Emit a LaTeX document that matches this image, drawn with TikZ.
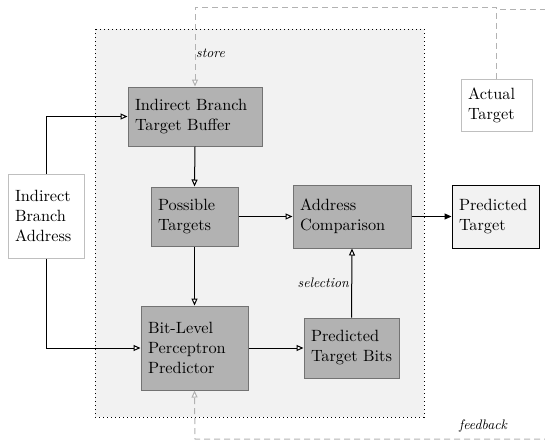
\documentclass[tikz,border=0pt]{standalone}
\usepackage{fontspec}
\setmainfont{lmroman10-regular.otf}[ItalicFont=lmroman10-italic.otf,
  BoldFont=lmroman10-bold.otf]
\usetikzlibrary{arrows.meta}
\begin{document}
\begin{tikzpicture}[x=1pt,y=-1pt,
  txt/.style={font=\fontsize{16.3}{20}\selectfont, align=left, anchor=center,
    inner xsep=7pt, inner ysep=0pt},
  unit/.style={txt, draw=black!55, fill=black!30, line width=1pt},
  ext/.style={txt, draw=black!25, fill=white, line width=1pt},
  outbox/.style={txt, draw=black, fill=black!5, line width=1pt},
  flow/.style={line width=1pt, -{Triangle[open,fill=white,length=7pt,width=6pt]}},
  outflow/.style={line width=1pt, -{Triangle[length=7pt,width=6pt]}},
  fb/.style={line width=1pt, draw=black!30, dash pattern=on 6pt off 4pt},
  fbarrow/.style={fb, -{Triangle[open,fill=white,length=7pt,width=6pt]}},
  tag/.style={font=\fontsize{13.8}{16}\selectfont\itshape, inner sep=0pt}]
\useasboundingbox (0,0) rectangle (545,440);
\clip (0,0) rectangle (545,440);

% predictor region
\draw[fill=black!5, line width=1pt, dash pattern=on 1pt off 3pt]
  (95,29) rectangle (424,417);

% blocks
\node[unit, minimum width=134pt, minimum height=59pt, text width=120pt]
  (ibtb) at (195,116.5) {Indirect Branch\\Target Buffer};
\node[unit, minimum width=87pt, minimum height=59pt, text width=73pt]
  (pt) at (194.5,216.5) {Possible\\Targets};
\node[unit, minimum width=118pt, minimum height=63pt, text width=104pt]
  (ac) at (352,216.5) {Address\\Comparison};
\node[outbox, minimum width=87pt, minimum height=63pt, text width=73pt]
  (pred) at (495.5,216.5) {Predicted\\Target};
\node[unit, minimum width=107pt, minimum height=84pt, text width=93pt]
  (bl) at (194.5,348) {Bit-Level\\Perceptron\\Predictor};
\node[unit, minimum width=95pt, minimum height=60pt, text width=81pt]
  (ptb) at (351.5,348) {Predicted\\Target Bits};
\node[ext, minimum width=76pt, minimum height=84pt, text width=62pt]
  (iba) at (46,216) {Indirect\\Branch\\Address};
\node[ext, minimum width=71pt, minimum height=52pt, text width=57pt]
  (act) at (496.5,105) {Actual\\Target};

% connectors
\draw[flow] (iba.north) |- (ibtb.west);
\draw[flow] (iba.south) |- (bl.west);
\draw[flow] (ibtb.south) -- (pt.north);
\draw[flow] (pt.east) -- (pt.east -| ac.west);
\draw[flow] (pt.south) -- (bl.north);
\draw[flow] (bl.east) -- (bl.east -| ptb.west);
\draw[flow] (ptb.north) -- (ac.south);
\draw[outflow] (ac.east) -- (pred.west);

% update paths
\coordinate (topL) at (195,7);
\coordinate (topR) at (496.5,7);
\coordinate (edgeT0) at (500,9);
\coordinate (edgeT1) at (560,9);
\coordinate (botR) at (560,439);
\coordinate (botL) at (195,439);
\draw[fbarrow] (act.north) -- (topR) -- (topL) -- (ibtb.north);
\draw[fb] (edgeT0) -- (edgeT1);
\draw[fbarrow] (botR) -- (botL) -- (bl.south);

% labels
\node[tag, anchor=west] (lstore) at (196,53) {store};
\node[tag, anchor=east] (lsel) at (349,283) {selection};
\node[tag] (lfb) at (483,426) {feedback};
\end{tikzpicture}
\end{document}
